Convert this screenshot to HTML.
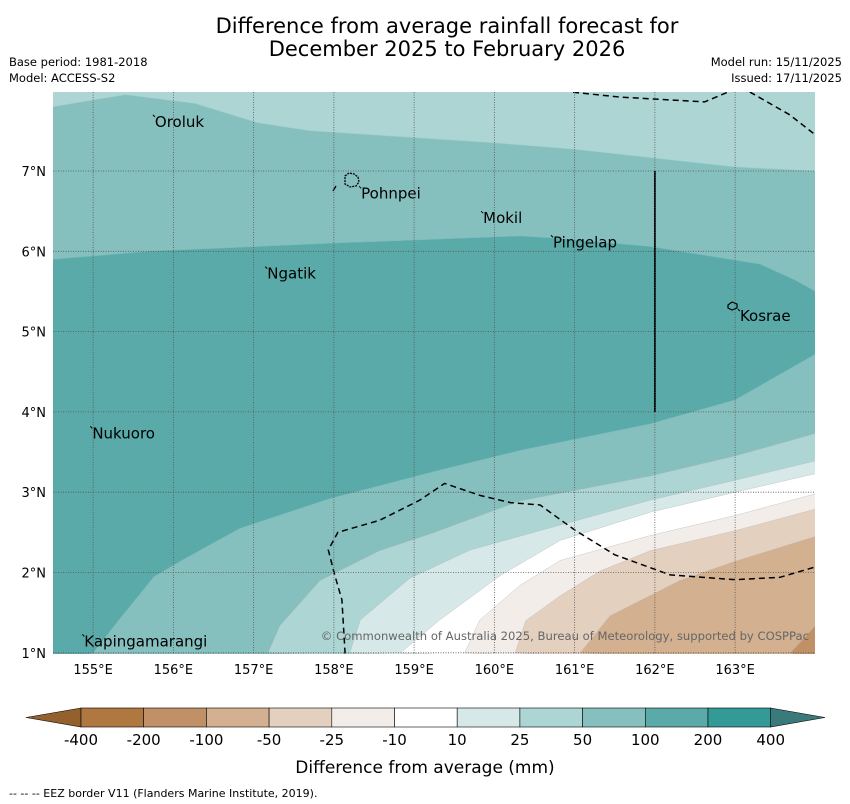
<!DOCTYPE html>
<html><head><meta charset="utf-8"><style>
body{margin:0;background:#fff;width:850px;height:804px;overflow:hidden;font-family:"Liberation Sans","DejaVu Sans",sans-serif}
svg{display:block}
</style></head><body>
<svg id="chart" width="850" height="804" font-family="DejaVu Sans, Liberation Sans, sans-serif">
<text x="447" y="33" font-size="21" text-anchor="middle">Difference from average rainfall forecast for</text>
<text x="447" y="56" font-size="21" text-anchor="middle">December 2025 to February 2026</text>
<text x="9" y="66" font-size="11.5">Base period: 1981-2018</text>
<text x="9" y="82" font-size="11.5">Model: ACCESS-S2</text>
<text x="842" y="66" font-size="11.5" text-anchor="end">Model run: 15/11/2025</text>
<text x="842" y="82" font-size="11.5" text-anchor="end">Issued: 17/11/2025</text>
<defs><clipPath id="mapclip"><rect x="53" y="92" width="762" height="562"/></clipPath></defs>
<g id="map" clip-path="url(#mapclip)"></g>
<g id="axes"></g>
<g id="cbar"></g>
<text x="425" y="773" font-size="17" text-anchor="middle">Difference from average (mm)</text>
<text x="9" y="797" font-size="11">-- -- -- EEZ border V11 (Flanders Marine Institute, 2019).</text>
</svg>
<script>
const lonTicks=[155,156,157,158,159,160,161,162,163];
const latTicks=[1,2,3,4,5,6,7];
const band2550Top=[[154.5,7.8],[155.4,7.95],[156.27,7.84],[157.05,7.6],[157.7,7.5],[160,7.35],[161,7.27],[163,7.05],[164,7.0]];
const band100Upper=[[154.5,5.9],[155.7,6.0],[157.95,6.1],[160.32,6.19],[160.82,6.16],[161.94,6.06],[163.31,5.84],[163.75,5.64],[164,5.5]];
const band100Lower=[[164,4.72],[163,4.15],[161.94,3.85],[160.32,3.52],[159.3,3.27],[157.95,2.92],[156.83,2.55],[156.14,2.17],[155.76,1.95],[155.33,1.42],[155,1.0]];
const line25=[[164,3.73],[163,3.45],[161.94,3.2],[160.32,2.89],[159.2,2.48],[158.57,2.27],[157.83,1.9],[157.33,1.34],[157.18,1.0]];
const line10=[[164,3.39],[163,3.15],[161.94,2.9],[160.82,2.59],[159.7,2.28],[158.95,1.93],[158.33,1.41],[158.2,1.0]];
const lineM10=[[164,3.23],[163,3.0],[161.94,2.75],[160.82,2.4],[160.07,1.96],[159.32,1.41],[158.83,1.0]];
const lineM25=[[164,2.98],[163,2.71],[161.94,2.46],[160.82,2.15],[160.32,1.84],[159.82,1.41],[159.63,1.0]];
const lineM50=[[164,2.79],[163,2.52],[161.94,2.27],[161.32,2.02],[160.82,1.71],[160.39,1.4],[160.26,1.0]];
const lineM100=[[164,2.45],[163,2.14],[162.31,1.9],[161.44,1.46],[161.07,1.0]];
const lineM200=[[164,1.34],[163.69,1.0]];
const eezSouth=[[158.14,0.99],[158.1,1.66],[158.01,1.97],[157.93,2.28],[158.05,2.5],[158.57,2.65],[159.07,2.9],[159.38,3.11],[159.82,2.96],[160.2,2.87],[160.57,2.84],[161,2.53],[161.5,2.22],[162.19,1.97],[163,1.91],[163.56,1.94],[164,2.07]];
const eezNorth=[[160.98,7.98],[161.57,7.92],[162.62,7.86],[163,8.02],[163.19,7.98],[163.68,7.7],[164,7.45]];
const places=[["Oroluk",155.77,7.55],["Pohnpei",158.34,6.66],["Mokil",159.86,6.35],["Pingelap",160.73,6.05],["Ngatik",157.17,5.66],["Kosrae",163.06,5.13],["Nukuoro",154.99,3.67],["Kapingamarangi",154.89,1.08]];
const cbLabels=["-400","-200","-100","-50","-25","-10","10","25","50","100","200","400"];
const cbColors=["#b07841","#c09166","#d3b08f","#e4d0bf","#f2ede9","#ffffff","#d6e9e8","#acd5d4","#85bfbe","#5aaaa9","#339a98"];
const NS="http://www.w3.org/2000/svg";
const X=lon=>53+(lon-154.5)*80.25;
const Y=lat=>171-(lat-7)*80.3;
function el(tag,attrs,parent){const e=document.createElementNS(NS,tag);for(const k in attrs)e.setAttribute(k,attrs[k]);parent.appendChild(e);return e;}
const pts=a=>a.map(p=>X(p[0]).toFixed(1)+","+Y(p[1]).toFixed(1));
const mapG=document.getElementById('map');
const bg=el('rect',{x:53,y:92,width:762,height:562,fill:"#85bfbe"},mapG);


const northBand=el('polygon',{points:["40,80"].concat(pts(band2550Top),["830,80"]).join(" "),fill:"#acd5d4",stroke:"#9cc",'stroke-width':0.5},mapG);


const midBand=el('polygon',{points:["40,"+Y(band100Upper[0][1])].concat(pts(band100Upper),pts(band100Lower),["40,670"]).join(" "),fill:"#5aaaa9",stroke:"#7bb",'stroke-width':0.5},mapG);


const lowers=[[line25,"#acd5d4","contour-25-50"],[line10,"#d6e9e8","contour-10-25"],[lineM10,"#ffffff","contour-minus10-10"],[lineM25,"#f2ede9","contour-minus25-minus10"],[lineM50,"#e4d0bf","contour-minus50-minus25"],[lineM100,"#d3b08f","contour-minus100-minus50"],[lineM200,"#c09166","contour-minus200-minus100"]];
lowers.forEach(([ln,c,n])=>{
  const p=el('polygon',{points:pts(ln).concat(["830,670","830,"+Y(ln[0][1])]).join(" "),fill:c,stroke:"#bbb",'stroke-width':0.4},mapG);
  
  
});
const axesG=document.getElementById('axes');
lonTicks.forEach(l=>{
  const g=el('line',{x1:X(l),x2:X(l),y1:92,y2:654,stroke:"#555",'stroke-width':0.8,'stroke-dasharray':"1,1.5"},axesG);
  
  
  const t=el('text',{x:X(l),y:674,'font-size':13,'text-anchor':'middle'},axesG);t.textContent=l+"°E";
  
  
});
latTicks.forEach(l=>{
  const g=el('line',{x1:53,x2:815,y1:Y(l),y2:Y(l),stroke:"#555",'stroke-width':0.8,'stroke-dasharray':"1,1.5"},axesG);
  
  
  const t=el('text',{x:46,y:Y(l)+5,'font-size':13,'text-anchor':'end'},axesG);t.textContent=l+"°N";
  
  
});
[eezSouth,eezNorth].forEach((ln,i)=>{
  const p=el('polyline',{points:pts(ln).join(" "),fill:"none",stroke:"#000",'stroke-width':1.5,'stroke-dasharray':"6,4"},mapG);
  
  
});
const vl=el('line',{x1:X(162),x2:X(162),y1:Y(7),y2:Y(4),stroke:"#000",'stroke-width':1.8},mapG);


const pis=el('path',{d:"M345,176 l4,-3 l5,1 l4,3 l1,5 l-3,4 l-6,1 l-5,-3 z",fill:"none",stroke:"#000",'stroke-width':1.3,'stroke-dasharray':"2,1"},mapG);


const kis=el('path',{d:"M728,305 l4,-3 l5,2 l0,4 l-5,2 l-4,-2 z",fill:"none",stroke:"#000",'stroke-width':1.2},mapG);


const ed=el('line',{x1:333,y1:191,x2:336,y2:186,stroke:"#000",'stroke-width':1.3},mapG);


places.forEach(([n,lo,la])=>{
  const mk=el('line',{x1:X(lo)-2,y1:Y(la)-12,x2:X(lo),y2:Y(la)-10,stroke:"#000",'stroke-width':1},mapG);
  
  
  const t=el('text',{x:X(lo),y:Y(la),'font-size':15},mapG);t.textContent=n;
  
  
});
const cp=el('text',{x:809,y:640,'font-size':11.6,'text-anchor':'end',fill:"#666"},mapG);cp.textContent="© Commonwealth of Australia 2025, Bureau of Meteorology, supported by COSPPac";


const cbG=document.getElementById('cbar');
const cbX0=81,cbW=62.7,cbY=708,cbH=19;
const lt=el('polygon',{points:`${cbX0},${cbY} 26,${cbY+cbH/2} ${cbX0},${cbY+cbH}`,fill:"#94602e",stroke:"#000",'stroke-width':0.6},cbG);


cbColors.forEach((c,i)=>{
  const r=el('rect',{x:cbX0+i*cbW,y:cbY,width:cbW,height:cbH,fill:c,stroke:"#000",'stroke-width':0.6},cbG);
  
  
});
const cbEnd=cbX0+cbColors.length*cbW;
const rt=el('polygon',{points:`${cbEnd},${cbY} 825,${cbY+cbH/2} ${cbEnd},${cbY+cbH}`,fill:"#3a7a7a",stroke:"#000",'stroke-width':0.6},cbG);


cbLabels.forEach((l,i)=>{
  const t=el('text',{x:cbX0+i*cbW,y:745,'font-size':15,'text-anchor':'middle'},cbG);t.textContent=l;
  
  
});
</script>
</body></html>
